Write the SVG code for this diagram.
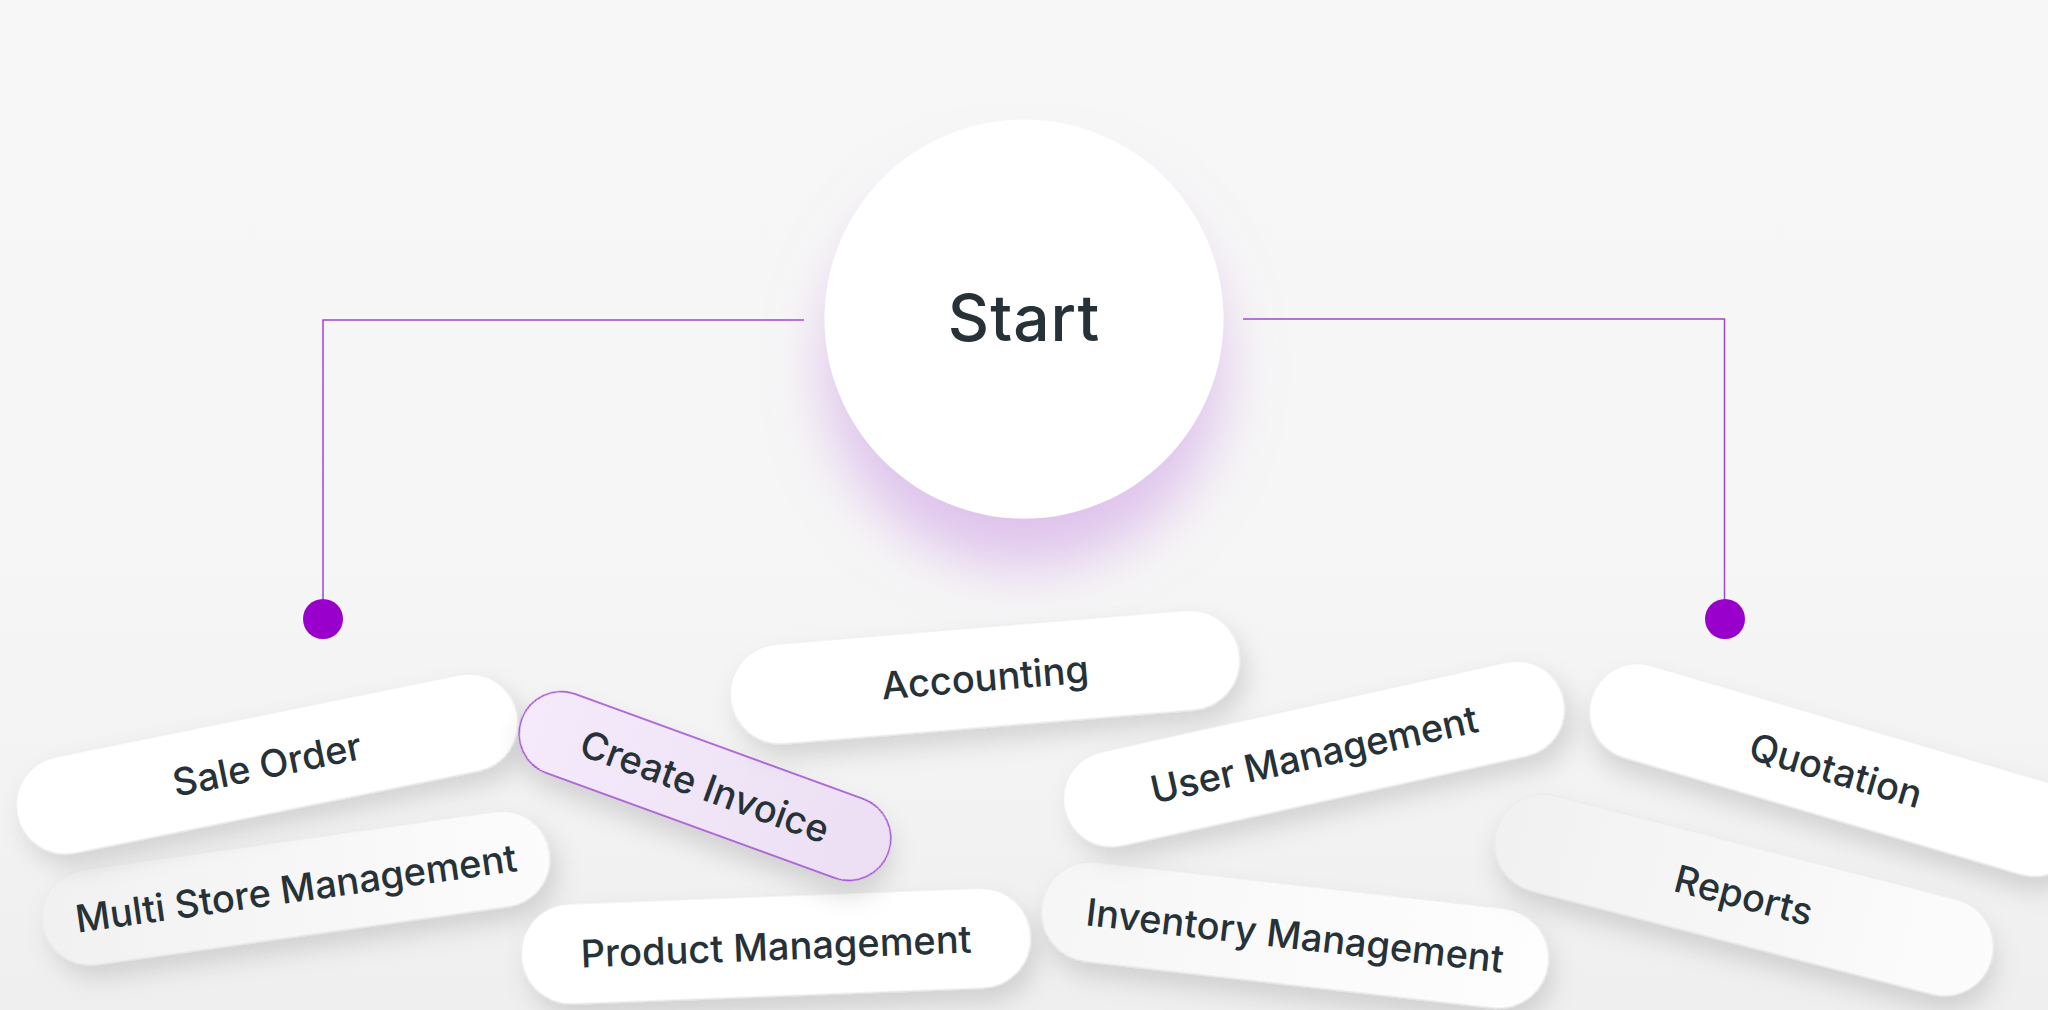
<svg xmlns="http://www.w3.org/2000/svg" width="2048" height="1010" viewBox="0 0 2048 1010">
  <defs>
    <linearGradient id="bg" x1="0" y1="0" x2="0" y2="1">
      <stop offset="0" stop-color="#f7f7f7"/>
      <stop offset="0.55" stop-color="#f6f6f6"/>
      <stop offset="1" stop-color="#efefef"/>
    </linearGradient>
    <linearGradient id="greyPill" x1="0" y1="0" x2="1" y2="0">
      <stop offset="0" stop-color="#f1f1f1"/>
      <stop offset="1" stop-color="#fcfcfc"/>
    </linearGradient>
    <linearGradient id="lightPill" x1="0" y1="0" x2="1" y2="0">
      <stop offset="0" stop-color="#f6f6f6"/>
      <stop offset="1" stop-color="#fefefe"/>
    </linearGradient>
    <linearGradient id="invoiceFill" x1="0" y1="0" x2="1" y2="0">
      <stop offset="0" stop-color="#f5eafc"/>
      <stop offset="1" stop-color="#ecdff3"/>
    </linearGradient>
    <filter id="pillShadow" x="-20%" y="-60%" width="140%" height="220%">
      <feDropShadow dx="6" dy="14" stdDeviation="12" flood-color="#000000" flood-opacity="0.13"/>
    </filter>
    <filter id="startGlow" x="-40%" y="-40%" width="180%" height="200%">
      <feDropShadow dx="0" dy="48" stdDeviation="28" flood-color="#c890e2" flood-opacity="0.5"/>
    </filter>
    <style>
      .pill { fill: #ffffff; stroke: #e6e6e6; stroke-width: 0.8; filter: url(#pillShadow); }
      .pill.grey { fill: url(#greyPill); }
      .pill.light { fill: url(#lightPill); }
      .pill.active { fill: url(#invoiceFill); stroke: #9b3fcf; stroke-width: 1.3; }
      .label { font-family: Inter, "Noto Sans", "Liberation Sans", sans-serif; font-size: 38px; font-weight: 500; fill: #263238; text-anchor: middle; }
      .title { font-family: Inter, "Noto Sans", "Liberation Sans", sans-serif; font-size: 64px; font-weight: 500; fill: #263238; text-anchor: middle; letter-spacing: 1px; }
      .conn { fill: none; stroke: #a244d2; stroke-width: 1.5; }
      .dot { fill: #9900cc; }
    </style>
  </defs>

  <rect x="0" y="0" width="2048" height="1010" fill="url(#bg)"/>

  <g id="connectors">
    <polyline class="conn" points="804,320 323,320 323,605"/>
    <polyline class="conn" points="1243,319 1724.5,319 1724.5,605"/>
    <circle class="dot" cx="323" cy="619" r="20"/>
    <circle class="dot" cx="1725" cy="619" r="20"/>
  </g>

  <g id="start">
    <circle cx="1024" cy="319" r="199.5" fill="#ffffff" filter="url(#startGlow)"/>
    <text class="title" x="1024" y="341">Start</text>
  </g>

  <g id="multi-store-management" transform="translate(296,888) rotate(-8)">
    <rect class="pill grey" x="-256" y="-48" width="512" height="96" rx="48"/>
    <text class="label" x="0" y="14">Multi Store Management</text>
  </g>

  <g id="sale-order" transform="translate(267,764) rotate(-11.5)">
    <rect class="pill" x="-255" y="-49" width="510" height="98" rx="49"/>
    <text class="label" x="0" y="14">Sale Order</text>
  </g>

  <g id="product-management" transform="translate(776,946) rotate(-2.2)">
    <rect class="pill" x="-255" y="-50" width="510" height="100" rx="50"/>
    <text class="label" x="0" y="14">Product Management</text>
  </g>

  <g id="create-invoice" transform="translate(705,786) rotate(20)">
    <rect class="pill active" x="-195" y="-42" width="390" height="84" rx="42"/>
    <text class="label" x="0" y="14">Create Invoice</text>
  </g>

  <g id="accounting" transform="translate(985,677) rotate(-4.7)">
    <rect class="pill" x="-255.5" y="-50" width="511" height="100" rx="50"/>
    <text class="label" x="0" y="14">Accounting</text>
  </g>

  <g id="inventory-management" transform="translate(1295,935) rotate(6.5)">
    <rect class="pill light" x="-255" y="-50" width="510" height="100" rx="50"/>
    <text class="label" x="0" y="14">Inventory Management</text>
  </g>

  <g id="user-management" transform="translate(1314,754) rotate(-12.5)">
    <rect class="pill" x="-255.5" y="-48" width="511" height="96" rx="48"/>
    <text class="label" x="0" y="14">User Management</text>
  </g>

  <g id="reports" transform="translate(1744,895) rotate(14.5)">
    <rect class="pill grey" x="-256" y="-49" width="512" height="98" rx="49"/>
    <text class="label" x="0" y="14">Reports</text>
  </g>

  <g id="quotation" transform="translate(1836,770) rotate(16.4)">
    <rect class="pill" x="-255" y="-48" width="510" height="96" rx="48"/>
    <text class="label" x="0" y="14">Quotation</text>
  </g>
</svg>
